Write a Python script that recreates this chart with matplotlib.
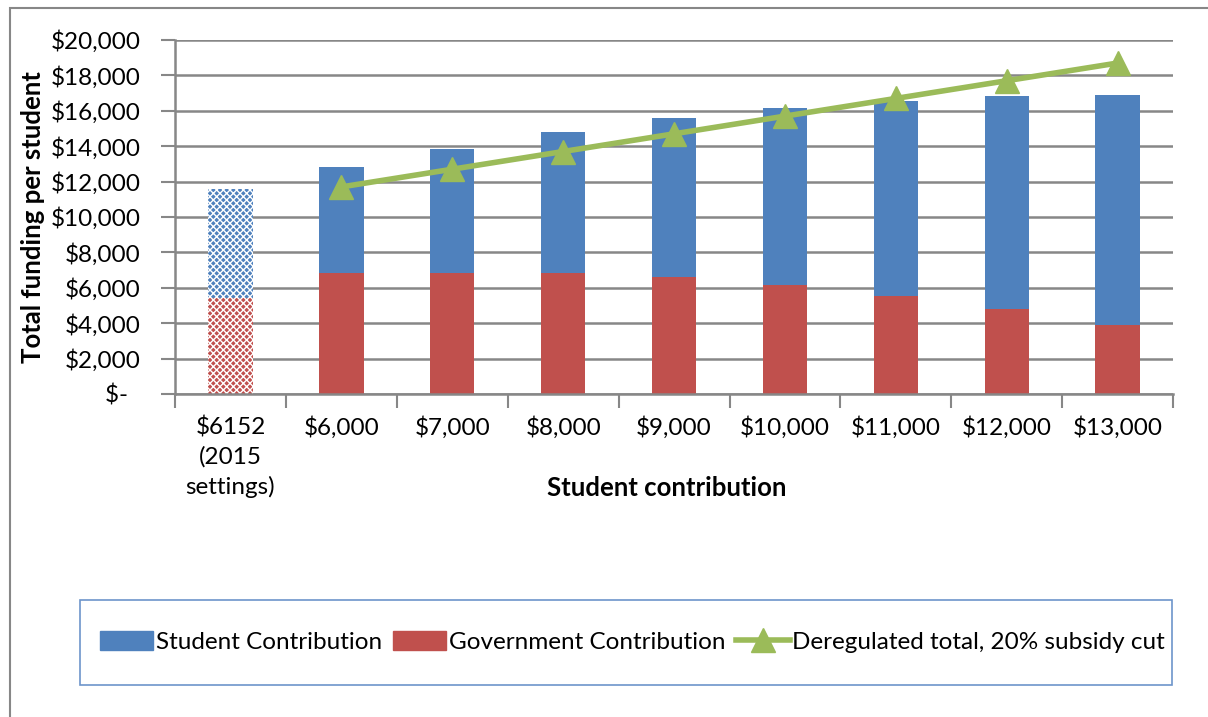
import matplotlib.pyplot as plt
from matplotlib.patches import Rectangle, Patch
from matplotlib.lines import Line2D
from matplotlib.ticker import FuncFormatter, MultipleLocator
import numpy as np

plt.rcParams['font.family'] = ['Lato', 'DejaVu Sans']

categories = ['$6152\n(2015\nsettings)', '$6,000', '$7,000', '$8,000', '$9,000',
              '$10,000', '$11,000', '$12,000', '$13,000']
student = [6152, 6000, 7000, 8000, 9000, 10000, 11000, 12000, 13000]
government = [5450, 6820, 6820, 6820, 6600, 6150, 5550, 4820, 3920]
# deregulated scenario starts at the $6,000 column
dereg_total = [11700, 12700, 13700, 14700, 15700, 16700, 17700, 18700]

BLUE = '#4F81BD'
RED = '#C0504D'
GREEN = '#9BBB59'
GREY = '#878787'
FS = 17.5

fig = plt.figure(figsize=(12.08, 7.17), dpi=100)
ax = fig.add_axes([0.1449, 0.4505, 0.8262, 0.4937])

x = np.arange(len(categories))
gov_bars = ax.bar(x, government, width=0.4, color=RED, zorder=2)
stu_bars = ax.bar(x, student, width=0.4, bottom=government, color=BLUE, zorder=2)

# 2015 settings column is drawn with a fine white pattern
plt.rcParams['hatch.linewidth'] = 0.5
for b in (gov_bars[0], stu_bars[0]):
    b.set_hatch('xxxxx')
    b.set_edgecolor('white')
    b.set_linewidth(0)

ax.plot(x[1:], dereg_total, color=GREEN, lw=4, marker='^', markersize=17,
        zorder=3)

ax.set_xlim(-0.5, len(categories) - 0.5)
ax.set_ylim(0, 20000)
ax.yaxis.set_major_locator(MultipleLocator(2000))
ax.yaxis.set_major_formatter(FuncFormatter(
    lambda v, p: '$-  ' if v == 0 else '${:,.0f}'.format(v)))
ax.yaxis.grid(True, color=GREY, lw=1.8)
ax.set_axisbelow(True)

ax.set_xticks(x)
ax.set_xticklabels(categories, linespacing=1.45)
ax.set_xticks(np.arange(-0.5, len(categories)), minor=True)
ax.tick_params(axis='x', which='major', length=0, pad=16, labelsize=FS)
ax.tick_params(axis='x', which='minor', length=10, width=1.5, color=GREY)
ax.tick_params(axis='y', length=10, width=1.5, color=GREY, pad=15,
               labelsize=FS)

for s in ['top', 'right']:
    ax.spines[s].set_visible(False)
for s in ['left', 'bottom']:
    ax.spines[s].set_color(GREY)
    ax.spines[s].set_linewidth(1.8)

ax.set_xlabel('Student contribution', fontsize=18.5, fontweight='bold',
              va='center')
ax.xaxis.set_label_coords(0.493, -0.2655)
ax.set_ylabel('Total funding per student', fontsize=18.5, fontweight='bold',
              va='center')
ax.yaxis.set_label_coords(-0.1425, 0.5)

handles = [Patch(color=BLUE), Patch(color=RED),
           Line2D([], [], color=GREEN, lw=4, marker='^', markersize=17)]
labels = ['Student Contribution', 'Government Contribution',
          'Deregulated total, 20% subsidy cut']
fig.legend(handles, labels, loc='center', bbox_to_anchor=(0.5235, 0.1046),
           ncol=3, frameon=False, fontsize=FS, handlelength=2.2,
           handleheight=0.8, handletextpad=0.1, columnspacing=0.45)

# legend frame and outer chart border
fig.add_artist(Rectangle((0.0662, 0.0446), 0.904, 0.1186, transform=fig.transFigure,
                         fill=False, edgecolor='#6D95CB', lw=1.2))
fig.add_artist(Rectangle((0.0083, -0.02), 1.1, 1.0088, transform=fig.transFigure,
                         fill=False, edgecolor=GREY, lw=1.5))

fig.savefig('out.png', dpi=100)
